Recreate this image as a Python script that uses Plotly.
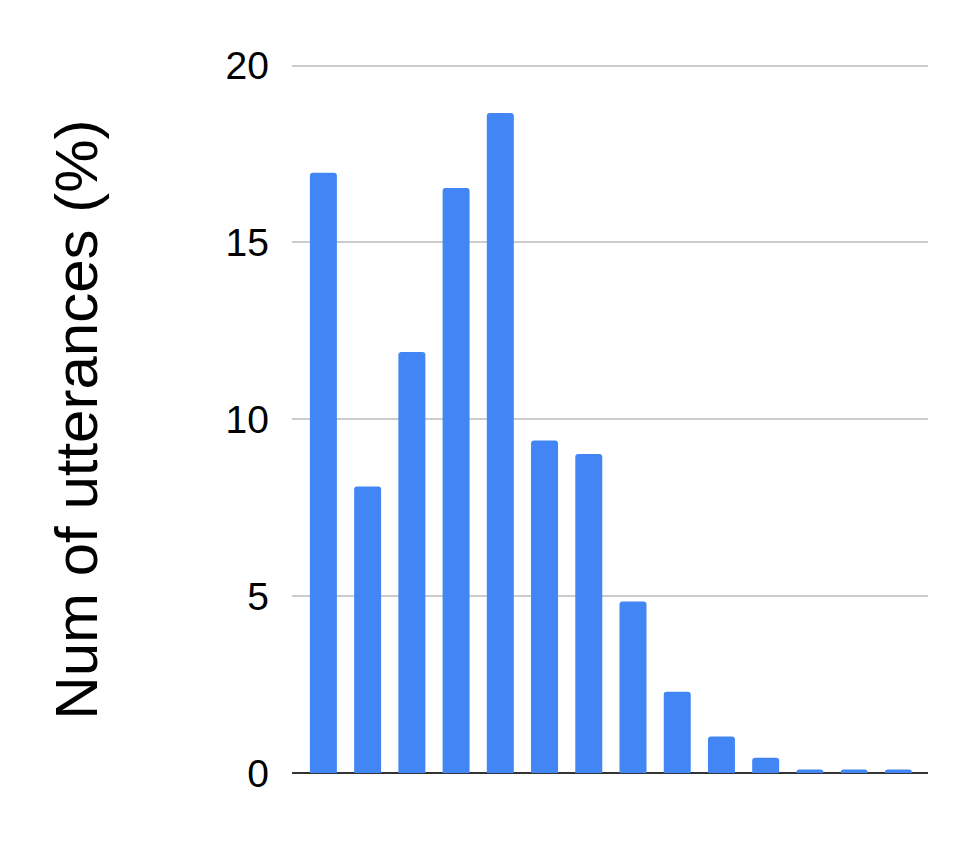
import plotly.graph_objects as go

# bins (no x labels in the original chart)
bins = list(range(1, 15))
utterances_pct = [16.97, 8.1, 11.9, 16.54, 18.66, 9.4, 9.02, 4.85, 2.3, 1.03, 0.43, 0.1, 0.1, 0.1]
y_ticks = [0, 5, 10, 15, 20]

fig = go.Figure()

fig.add_trace(go.Bar(
    x=bins,
    y=utterances_pct,
    marker=dict(color="#4285F4", cornerradius=3, line_width=0),
    hoverinfo="y"
))

# y title placed by hand, far left like the original
fig.add_annotation(
    text="Num of utterances (%)",
    xref="paper", yref="paper",
    x=-0.338, y=0.497,
    xanchor="center", yanchor="middle",
    textangle=-90,
    showarrow=False,
    font=dict(size=60, color="#000000")
)

# page body has an 8px margin, so the figure is a bit smaller than the window
fig.update_layout(
    width=962,
    height=833,
    margin=dict(l=284, r=42, t=54, b=68, autoexpand=False),
    plot_bgcolor="white",
    paper_bgcolor="white",
    font=dict(family="Liberation Sans, Arial, sans-serif", color="#000000"),
    bargap=0.39,
    showlegend=False,
    xaxis=dict(
        range=[0.29, 14.67],
        showticklabels=False,
        showgrid=False,
        zeroline=False,
        ticks="",
    ),
    yaxis=dict(
        range=[0, 20.1],
        tickvals=y_ticks,
        tickfont=dict(size=39),
        ticklabelstandoff=22,
        showgrid=True,
        gridcolor="#CCCCCC",
        gridwidth=2,
        zeroline=True,
        zerolinecolor="#333333",
        zerolinewidth=2,
        ticks="",
    ),
)

fig.write_html("out.html")
